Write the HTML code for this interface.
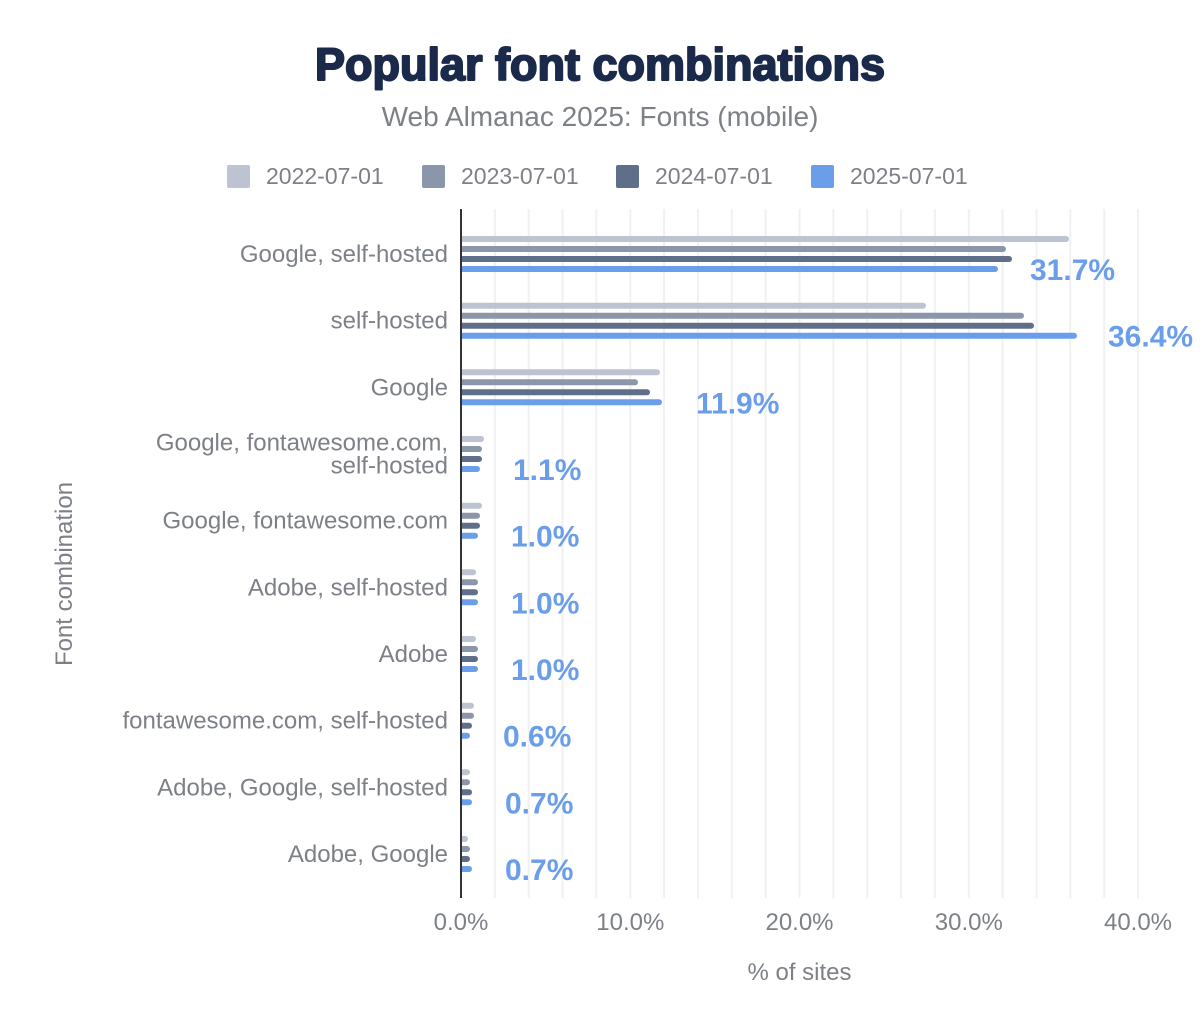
<!DOCTYPE html>
<html>
<head>
<meta charset="utf-8">
<style>
  html,body{margin:0;padding:0;background:#fff;}
  svg{display:block;}
  text{font-family:"Liberation Sans", Arial, sans-serif;}
</style>
</head>
<body>
<svg width="1200" height="1028" viewBox="0 0 1200 1028" xmlns="http://www.w3.org/2000/svg">
  <defs>
    <clipPath id="plot"><rect x="461" y="200" width="739" height="700"/></clipPath>
  </defs>
  <rect width="1200" height="1028" fill="#fff"/>
  <!-- Title -->
  <text x="600" y="80" text-anchor="middle" font-size="45" font-weight="bold" fill="#1b2a4a" stroke="#1b2a4a" stroke-width="2" stroke-linejoin="round">Popular font combinations</text>
  <text x="600" y="126" text-anchor="middle" font-size="28" fill="#7d8187">Web Almanac 2025: Fonts (mobile)</text>

  <!-- Legend -->
  <g font-size="23" fill="#7d8187">
    <rect x="227" y="165" width="23" height="23" rx="2" fill="#bdc3d1"/>
    <text x="266" y="184">2022-07-01</text>
    <rect x="422" y="165" width="23" height="23" rx="2" fill="#8b96ab"/>
    <text x="461" y="184">2023-07-01</text>
    <rect x="616" y="165" width="23" height="23" rx="2" fill="#5f6e89"/>
    <text x="655" y="184">2024-07-01</text>
    <rect x="811" y="165" width="23" height="23" rx="2" fill="#6b9eea"/>
    <text x="850" y="184">2025-07-01</text>
  </g>

  <!-- Gridlines every 2% -->
  <g stroke="#f1f1f1" stroke-width="2">
    <line x1="494.9" y1="209" x2="494.9" y2="898"/>
    <line x1="528.7" y1="209" x2="528.7" y2="898"/>
    <line x1="562.6" y1="209" x2="562.6" y2="898"/>
    <line x1="596.4" y1="209" x2="596.4" y2="898"/>
    <line x1="630.3" y1="209" x2="630.3" y2="898"/>
    <line x1="664.1" y1="209" x2="664.1" y2="898"/>
    <line x1="698.0" y1="209" x2="698.0" y2="898"/>
    <line x1="731.8" y1="209" x2="731.8" y2="898"/>
    <line x1="765.7" y1="209" x2="765.7" y2="898"/>
    <line x1="799.5" y1="209" x2="799.5" y2="898"/>
    <line x1="833.4" y1="209" x2="833.4" y2="898"/>
    <line x1="867.2" y1="209" x2="867.2" y2="898"/>
    <line x1="901.1" y1="209" x2="901.1" y2="898"/>
    <line x1="934.9" y1="209" x2="934.9" y2="898"/>
    <line x1="968.8" y1="209" x2="968.8" y2="898"/>
    <line x1="1002.6" y1="209" x2="1002.6" y2="898"/>
    <line x1="1036.5" y1="209" x2="1036.5" y2="898"/>
    <line x1="1070.3" y1="209" x2="1070.3" y2="898"/>
    <line x1="1104.2" y1="209" x2="1104.2" y2="898"/>
    <line x1="1138" y1="209" x2="1138" y2="898"/>
  </g>

  <!-- Bars -->
  <g clip-path="url(#plot)">
    <!-- G1 -->
    <rect x="455" y="236" width="614" height="6" rx="3" fill="#bdc3d1"/>
    <rect x="455" y="246" width="551" height="6" rx="3" fill="#8b96ab"/>
    <rect x="455" y="256" width="557" height="6" rx="3" fill="#5f6e89"/>
    <rect x="455" y="266" width="543" height="6" rx="3" fill="#6b9eea"/>
    <!-- G2 -->
    <rect x="455" y="302.7" width="471" height="6" rx="3" fill="#bdc3d1"/>
    <rect x="455" y="312.7" width="569" height="6" rx="3" fill="#8b96ab"/>
    <rect x="455" y="322.7" width="579" height="6" rx="3" fill="#5f6e89"/>
    <rect x="455" y="332.7" width="622" height="6" rx="3" fill="#6b9eea"/>
    <!-- G3 -->
    <rect x="455" y="369.3" width="205" height="6" rx="3" fill="#bdc3d1"/>
    <rect x="455" y="379.3" width="183" height="6" rx="3" fill="#8b96ab"/>
    <rect x="455" y="389.3" width="195" height="6" rx="3" fill="#5f6e89"/>
    <rect x="455" y="399.3" width="207" height="6" rx="3" fill="#6b9eea"/>
    <!-- G4 -->
    <rect x="455" y="436" width="29" height="6" rx="3" fill="#bdc3d1"/>
    <rect x="455" y="446" width="27" height="6" rx="3" fill="#8b96ab"/>
    <rect x="455" y="456" width="27" height="6" rx="3" fill="#5f6e89"/>
    <rect x="455" y="466" width="25" height="6" rx="3" fill="#6b9eea"/>
    <!-- G5 -->
    <rect x="455" y="502.7" width="27" height="6" rx="3" fill="#bdc3d1"/>
    <rect x="455" y="512.7" width="25" height="6" rx="3" fill="#8b96ab"/>
    <rect x="455" y="522.7" width="25" height="6" rx="3" fill="#5f6e89"/>
    <rect x="455" y="532.7" width="23" height="6" rx="3" fill="#6b9eea"/>
    <!-- G6 -->
    <rect x="455" y="569.3" width="21" height="6" rx="3" fill="#bdc3d1"/>
    <rect x="455" y="579.3" width="23" height="6" rx="3" fill="#8b96ab"/>
    <rect x="455" y="589.3" width="23" height="6" rx="3" fill="#5f6e89"/>
    <rect x="455" y="599.3" width="23" height="6" rx="3" fill="#6b9eea"/>
    <!-- G7 -->
    <rect x="455" y="636" width="21" height="6" rx="3" fill="#bdc3d1"/>
    <rect x="455" y="646" width="23" height="6" rx="3" fill="#8b96ab"/>
    <rect x="455" y="656" width="23" height="6" rx="3" fill="#5f6e89"/>
    <rect x="455" y="666" width="23" height="6" rx="3" fill="#6b9eea"/>
    <!-- G8 -->
    <rect x="455" y="702.7" width="19" height="6" rx="3" fill="#bdc3d1"/>
    <rect x="455" y="712.7" width="19" height="6" rx="3" fill="#8b96ab"/>
    <rect x="455" y="722.7" width="17" height="6" rx="3" fill="#5f6e89"/>
    <rect x="455" y="732.7" width="15" height="6" rx="3" fill="#6b9eea"/>
    <!-- G9 -->
    <rect x="455" y="769.3" width="15" height="6" rx="3" fill="#bdc3d1"/>
    <rect x="455" y="779.3" width="15" height="6" rx="3" fill="#8b96ab"/>
    <rect x="455" y="789.3" width="17" height="6" rx="3" fill="#5f6e89"/>
    <rect x="455" y="799.3" width="17" height="6" rx="3" fill="#6b9eea"/>
    <!-- G10 -->
    <rect x="455" y="836" width="13" height="6" rx="3" fill="#bdc3d1"/>
    <rect x="455" y="846" width="15" height="6" rx="3" fill="#8b96ab"/>
    <rect x="455" y="856" width="15" height="6" rx="3" fill="#5f6e89"/>
    <rect x="455" y="866" width="17" height="6" rx="3" fill="#6b9eea"/>
  </g>

  <!-- Axis line -->
  <rect x="460" y="209" width="2" height="689" fill="#333"/>

  <!-- Category labels -->
  <g font-size="24" fill="#7d8187" text-anchor="end">
    <text x="448" y="262">Google, self-hosted</text>
    <text x="448" y="328.7">self-hosted</text>
    <text x="448" y="395.3">Google</text>
    <text x="448" y="450.5">Google, fontawesome.com,</text>
    <text x="448" y="473.5">self-hosted</text>
    <text x="448" y="528.7">Google, fontawesome.com</text>
    <text x="448" y="595.3">Adobe, self-hosted</text>
    <text x="448" y="662">Adobe</text>
    <text x="448" y="728.7">fontawesome.com, self-hosted</text>
    <text x="448" y="795.3">Adobe, Google, self-hosted</text>
    <text x="448" y="862">Adobe, Google</text>
  </g>

  <!-- Data labels -->
  <g font-size="30" font-weight="bold" fill="#6b9eea">
    <text x="1030" y="280">31.7%</text>
    <text x="1108" y="346.7">36.4%</text>
    <text x="696" y="413.3">11.9%</text>
    <text x="513" y="480">1.1%</text>
    <text x="511" y="546.7">1.0%</text>
    <text x="511" y="613.3">1.0%</text>
    <text x="511" y="680">1.0%</text>
    <text x="503" y="746.7">0.6%</text>
    <text x="505" y="813.3">0.7%</text>
    <text x="505" y="880">0.7%</text>
  </g>

  <!-- X tick labels -->
  <g font-size="24" fill="#7d8187" text-anchor="middle">
    <text x="461" y="930">0.0%</text>
    <text x="630.3" y="930">10.0%</text>
    <text x="799.5" y="930">20.0%</text>
    <text x="968.8" y="930">30.0%</text>
    <text x="1138" y="930">40.0%</text>
  </g>

  <!-- Axis titles -->
  <text x="799.5" y="980" text-anchor="middle" font-size="24" fill="#7d8187">% of sites</text>
  <text transform="translate(72,574) rotate(-90)" text-anchor="middle" font-size="24" fill="#7d8187">Font combination</text>
</svg>
</body>
</html>
